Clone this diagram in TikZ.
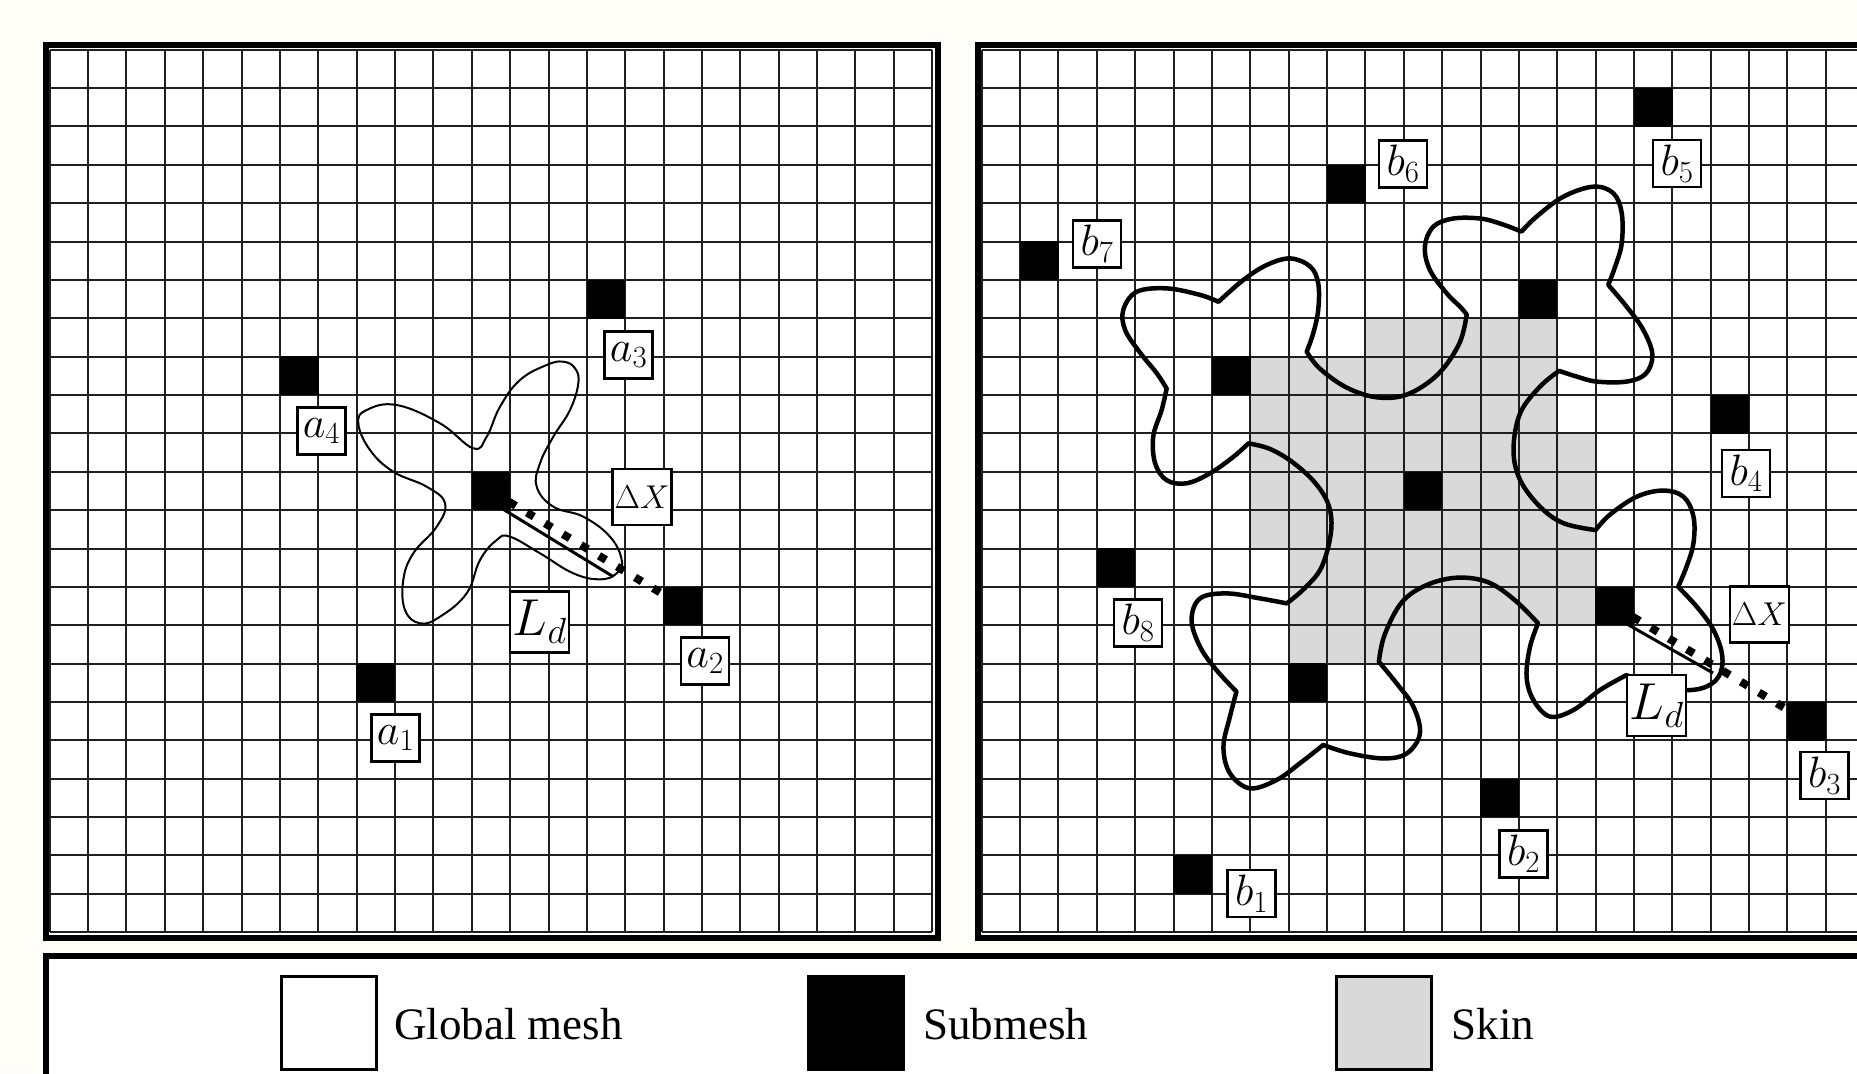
\RequirePackage{fix-cm}
\documentclass[tikz,border=0pt]{standalone}
\usepackage{fontspec}
\setmainfont{Liberation Serif}
\definecolor{bgcol}{HTML}{FFFDF8}
\definecolor{skin}{HTML}{D9D9D9}
\begin{document}
\begin{tikzpicture}[x=1pt,y=-1pt,
  panel/.style={draw=black, line width=6pt, fill=white},
  gridl/.style={line width=2pt, draw=black!88},
  sq/.style={fill=black, inner sep=0pt, minimum size=38.8pt},
  lab/.style={draw=black, line width=2.4pt, fill=white, inner sep=0pt, minimum width=48pt, minimum height=47pt, font=\fontsize{44}{46}\selectfont},
  dxlab/.style={lab, minimum width=59pt, minimum height=56pt, font=\fontsize{33}{35}\selectfont},
  ldlab/.style={lab, minimum width=59pt, minimum height=61pt, font=\fontsize{52}{54}\selectfont},
  flowerL/.style={draw=black, line width=2pt},
  flowerR/.style={draw=black, line width=4.5pt, line join=round},
  dotline/.style={draw=black, line width=8pt, dash pattern=on 8pt off 13pt},
  ldline/.style={draw=black, line width=3pt},
  legbox/.style={draw=black, line width=3pt, inner sep=0pt, minimum width=95pt, minimum height=93pt},
  legtext/.style={anchor=base west, inner sep=0pt, font=\fontsize{45}{48}\selectfont}
]
\useasboundingbox (0,0) rectangle (1857,1073);
\clip (0,0) rectangle (1857,1073);
\fill[bgcol] (0,0) rectangle (1857,1073);

% ---------- left panel ----------
\path[panel] (45.5,45.5) rectangle (938,938);
\begin{scope}[xshift=49.7pt, yshift=-49.7pt, x=38.37pt, y=-38.37pt]
  \foreach \i in {0,...,23} {
    \draw[gridl] (\i,0) -- (\i,23);
    \draw[gridl] (0,\i) -- (23,\i);
  }
  \node[sq] (lc) at (11.5,11.5) {};
  \node[sq] (sa1) at (8.5,16.5) {};
  \node[sq] (sa2) at (16.5,14.5) {};
  \node[sq] (sa3) at (14.5,6.5) {};
  \node[sq] (sa4) at (6.5,8.5) {};
\end{scope}

\draw[flowerL] plot[smooth cycle, tension=0.7] coordinates {(473.3,448.3) (440,423.3) (396.7,405) (366.7,410) (358.3,423.3) (370,450) (393.3,471.7) (426.7,486.7) (445,503.3) (436.7,526.7) (413.3,553.3) (403.3,580) (405,610) (420,623.3) (440,616.7) (466.7,593.3) (480,560) (496.7,540) (510,536.7) (540,553.3) (573.3,573.3) (600,579.3) (616.7,573.3) (621.7,560) (610,536.7) (583.3,516.7) (553.3,506.7) (536.7,486.7) (540,463.3) (553.3,436.7) (570,410) (578.3,383.3) (575,368.3) (563.3,361.7) (546.7,365) (520,380) (500,406.7) (486.7,436.7)};

\draw[dotline] (lc.center) -- (sa2.center);
\coordinate (ldLa) at (503.3,509.3);
\coordinate (ldLb) at (613.3,576.7);
\draw[ldline] (ldLa) -- (ldLb);

% ---------- right panel ----------
\path[panel] (977.7,45.5) rectangle (1890,938);
\begin{scope}[xshift=981.7pt, yshift=-49.7pt, x=38.37pt, y=-38.37pt]
  \fill[skin] (10,7) rectangle (15,8);
  \fill[skin] (7,8) rectangle (15,10);
  \fill[skin] (7,10) rectangle (16,13);
  \fill[skin] (8,13) rectangle (16,15);
  \fill[skin] (8,15) rectangle (13,16);
  \foreach \i in {0,...,23} {
    \draw[gridl] (\i,0) -- (\i,23);
    \draw[gridl] (0,\i) -- (23,\i);
  }
  \node[sq] (rc) at (11.5,11.5) {};
  \node[sq] (fa) at (6.5,8.5) {};
  \node[sq] (fb) at (14.5,6.5) {};
  \node[sq] (fc) at (16.5,14.5) {};
  \node[sq] (fd) at (8.5,16.5) {};
  \node[sq] (sb1) at (5.5,21.5) {};
  \node[sq] (sb2) at (13.5,19.5) {};
  \node[sq] (sb3) at (21.5,17.5) {};
  \node[sq] (sb4) at (19.5,9.5) {};
  \node[sq] (sb5) at (17.5,1.5) {};
  \node[sq] (sb6) at (9.5,3.5) {};
  \node[sq] (sb7) at (1.5,5.5) {};
  \node[sq] (sb8) at (3.5,13.5) {};

  \draw[flowerR]
   plot[smooth,tension=0.6] coordinates {(6.17,6.57) (6.82,6.0) (7.43,5.61) (8.04,5.44) (8.56,5.65) (8.77,6.09) (8.77,6.78) (8.64,7.39) (8.47,7.87)}
   -- plot[smooth,tension=0.6] coordinates {(8.47,7.87) (8.8,8.3) (9.5,8.8) (10.3,9.06) (11.1,8.98) (11.9,8.45) (12.45,7.65) (12.64,6.9)}
   -- plot[smooth,tension=0.6] coordinates {(12.64,6.9) (12.47,6.7) (12.12,6.35) (11.68,5.74) (11.55,5.13) (11.77,4.61) (12.29,4.4) (12.99,4.4) (13.51,4.53) (14.07,4.74)}
   -- plot[smooth,tension=0.6] coordinates {(14.07,4.74) (14.46,4.35) (15.16,3.83) (15.94,3.57) (16.46,3.74) (16.68,4.26) (16.68,5.05) (16.51,5.65) (16.33,6.13)}
   -- plot[smooth,tension=0.6] coordinates {(16.33,6.13) (16.81,6.7) (17.24,7.3) (17.48,7.95) (17.3,8.45) (16.8,8.65) (16.03,8.65) (15.51,8.52) (15.05,8.37)}
   -- plot[smooth,tension=0.6] coordinates {(15.05,8.37) (14.55,8.78) (14.03,9.48) (13.86,10.43) (14.03,11.21) (14.55,11.91) (15.16,12.34) (16.0,12.52)}
   -- plot[smooth,tension=0.6] coordinates {(16.0,12.52) (16.37,12.12) (17.07,11.65) (17.76,11.49) (18.29,11.65) (18.55,12.17) (18.55,12.86) (18.37,13.47) (18.15,14.0)}
   -- plot[smooth,tension=0.6] coordinates {(18.15,14.0) (18.63,14.51) (19.07,15.12) (19.3,15.8) (19.2,16.35) (18.74,16.65) (17.95,16.68) (17.35,16.51) (16.8,16.3)}
   -- plot[smooth,tension=0.6] coordinates {(16.8,16.3) (16.11,16.69) (15.42,17.21) (14.81,17.38) (14.38,16.95) (14.2,16.34) (14.29,15.56) (14.5,14.95)}
   -- plot[smooth,tension=0.6] coordinates {(14.5,14.95) (13.9,14.35) (13.2,13.88) (12.4,13.76) (11.6,13.95) (10.95,14.4) (10.5,15.25) (10.35,15.95)}
   -- plot[smooth,tension=0.6] coordinates {(10.35,15.95) (10.81,16.51) (11.25,17.12) (11.42,17.82) (11.08,18.34) (10.47,18.47) (9.6,18.34) (8.9,18.12)}
   -- plot[smooth,tension=0.6] coordinates {(8.9,18.12) (8.29,18.6) (7.69,19.03) (6.99,19.25) (6.47,18.86) (6.3,18.17) (6.47,17.38) (6.64,16.73)}
   -- plot[smooth,tension=0.6] coordinates {(6.64,16.73) (6.12,16.17) (5.69,15.56) (5.47,14.86) (5.69,14.3) (6.38,14.17) (7.25,14.3) (7.95,14.43)}
   -- plot[smooth,tension=0.6] coordinates {(7.95,14.43) (8.4,14.05) (8.85,13.5) (9.1,12.6) (9.05,11.9) (8.7,11.3) (8.1,10.75) (7.5,10.4) (6.95,10.26)}
   -- plot[smooth,tension=0.6] coordinates {(6.95,10.26) (6.56,10.61) (5.95,11.04) (5.34,11.3) (4.82,11.22) (4.52,10.78) (4.47,10.08) (4.69,9.39) (4.82,8.83)}
   -- plot[smooth,tension=0.6] coordinates {(4.82,8.83) (4.56,8.43) (4.13,7.9) (3.74,7.31) (3.69,6.78) (4.04,6.31) (4.82,6.22) (5.69,6.39) (6.17,6.57)}
   -- cycle;
\end{scope}

\draw[dotline] (fc.center) -- (sb3.center);
\coordinate (ldRa) at (1626,623.5);
\coordinate (ldRb) at (1713,673);
\draw[ldline] (ldRa) -- (ldRb);

% ---------- labels ----------
\node[lab] (la3) at (628.5,355) {$a_3$};
\node[lab] (la4) at (321.5,431) {$a_4$};
\node[lab] (la2) at (705,661) {$a_2$};
\node[lab] (la1) at (395.6,738) {$a_1$};
\node[dxlab] (dxL) at (642,497) {$\Delta X$};
\node[ldlab] (ldL) at (539.7,622) {$L_d$};

\node[lab] (lb5) at (1677,163.5) {$b_5$};
\node[lab] (lb6) at (1403,164) {$b_6$};
\node[lab] (lb7) at (1097,244) {$b_7$};
\node[lab] (lb4) at (1746,473.3) {$b_4$};
\node[lab] (lb8) at (1138,623) {$b_8$};
\node[lab] (lb3) at (1824.5,775.7) {$b_3$};
\node[lab] (lb2) at (1523.5,854) {$b_2$};
\node[lab] (lb1) at (1251.5,893.7) {$b_1$};
\node[dxlab] (dxR) at (1759.3,614.5) {$\Delta X$};
\node[ldlab] (ldR) at (1656.7,705.5) {$L_d$};

% ---------- legend ----------
\path[panel] (45.5,956) rectangle (1900,1120);
\node[legbox, fill=white] (lg1) at (328.6,1022.6) {};
\node[legbox, fill=black] (lg2) at (856.2,1022.6) {};
\node[legbox, fill=skin] (lg3) at (1383.8,1022.6) {};
\node[legtext] (lt1) at (394,1039) {Global mesh};
\node[legtext] (lt2) at (923,1039) {Submesh};
\node[legtext] (lt3) at (1451.5,1039) {Skin};
\end{tikzpicture}
\end{document}
